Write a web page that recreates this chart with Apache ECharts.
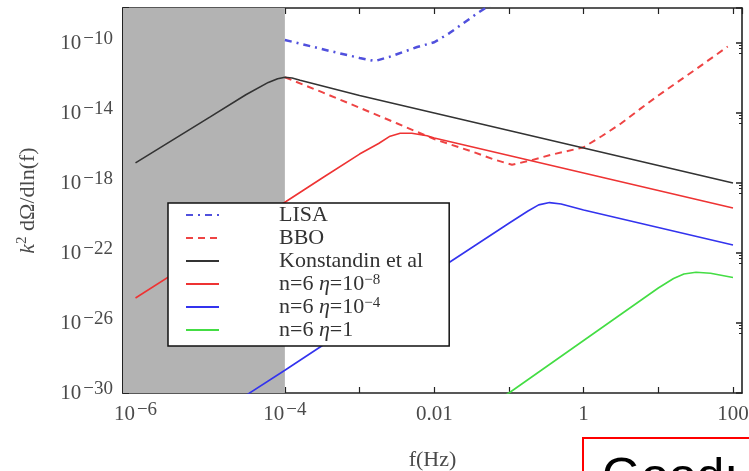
<!DOCTYPE html>
<html><head><meta charset="utf-8">
<script src="https://cdn.jsdelivr.net/npm/echarts@6/dist/echarts.min.js"></script>
<style>html,body{margin:0;padding:0;background:#fff}#c{width:749px;height:471px}</style>
</head><body><div id="c"></div>
<script>
// ---- data ----
const seriesNames = ['LISA', 'BBO', 'Konstandin et al', 'n=6 η=10^-8', 'n=6 η=10^-4', 'n=6 η=1'];

const lisaF = [1e-4, 4e-4, 1e-3, 1.6e-3, 2.5e-3, 5.9e-3, 1e-2, 1.6e-2, 3.8e-2, 8e-2];
const lisaH = [1.5e-10, 3.5e-11, 1.4e-11, 9.3e-12, 1.6e-11, 5.9e-11, 1.1e-10, 3.7e-10, 5.1e-9, 4e-8];

const bboF = [1e-4, 3.2e-4, 1e-3, 3.2e-3, 1e-2, 3.2e-2, 6.3e-2, 0.11, 0.2, 0.36, 1, 1.78, 3.16, 5.6, 10, 32, 85];
const bboH = [1.1e-12, 1.5e-13, 2e-14, 2.5e-15, 3.2e-16, 6.3e-17, 2.2e-17, 1.1e-17, 2e-17, 4e-17, 1.1e-16, 5e-16, 2.5e-15, 1.6e-14, 1e-13, 3.2e-12, 6.3e-11];

const konF = [1e-6, 1e-5, 3e-5, 6e-5, 8e-5, 1e-4, 1.25e-4, 1.6e-4, 1e-3, 1e-2, 0.1, 1, 10, 100];
const konH = [1.4e-17, 6e-15, 1.1e-13, 5.6e-13, 9e-13, 1.1e-12, 1e-12, 7.5e-13, 1e-13, 1e-14, 1e-15, 1e-16, 1e-17, 1e-18];

const eta8F = [1e-6, 1e-5, 1e-4, 3.2e-4, 1e-3, 1.8e-3, 2.5e-3, 3.5e-3, 5e-3, 8e-3, 1e-2, 0.1, 1, 10, 100];
const eta8H = [2.7e-25, 1.4e-22, 7.9e-20, 2e-18, 4.5e-17, 1.8e-16, 4.5e-16, 7e-16, 7e-16, 5e-16, 3.7e-16, 3.7e-17, 3.7e-18, 3.7e-19, 3.7e-20];

const eta4F = [2.5e-5, 1e-4, 1e-3, 1e-2, 0.1, 0.18, 0.25, 0.35, 0.5, 1, 10, 100];
const eta4H = [4.4e-31, 2e-29, 1.3e-26, 7.9e-24, 5e-21, 2.5e-20, 5.6e-20, 7.6e-20, 6.3e-20, 2.9e-20, 2.9e-21, 2.9e-22];

const eta1F = [0.08, 0.1, 1, 10, 16, 22, 32, 50, 100];
const eta1H = [5.6e-31, 1e-30, 1e-27, 1e-24, 3.5e-24, 6.3e-24, 7.9e-24, 7e-24, 4e-24];

const shadeEnd = 1e-4;
const xTickExp = [-6, -4, -2, 0, 2];
const xTickText = ['10^-6', '10^-4', '0.01', '1', '100'];
const yTickExp = [-30, -26, -22, -18, -14, -10];
const yTickText = ['10^-30', '10^-26', '10^-22', '10^-18', '10^-14', '10^-10'];

// ---- build ----
// ECharts' log scale rounds values near 1e-30 to zero, so the y values are
// handed to the library multiplied by 10^22 and the labels shifted back.
const yShiftExp = 22;
const yScale = Math.pow(10, yShiftExp);
const xMin = 6.8e-7, xMax = 132;
const yMinExp = -30, yMaxExp = -8;
function pairs(f, h) { return f.map((v, i) => [v, h[i] * yScale]); }
function rich(t) {
  const m = t.match(/^(.*)\^(-?\d+)$/);
  if (!m) return '{b|' + t + '}';
  return '{b|' + m[1] + '}{s|' + m[2].replace('-', '−') + '}';
}
function fmt(exps, texts, shift) {
  return function (v) {
    const e = Math.log10(v) - shift;
    const i = exps.findIndex(t => Math.abs(t - e) < 1e-6);
    return i < 0 ? '' : rich(texts[i]);
  };
}
const serif = 'Liberation Serif';
const labelRich = {
  b: { fontFamily: serif, fontSize: 21, lineHeight: 26, color: '#4a4a4a' },
  s: { fontFamily: serif, fontSize: 19, lineHeight: 15, color: '#4a4a4a', verticalAlign: 'top', padding: [0, 0, 0, 2] }
};
function legendFmt(name) {
  const m = name.match(/^n=6 η=(.*)$/);
  if (!m) return '{a|' + name + '}';
  const r = m[1].match(/^10\^(-?\d+)$/);
  if (r) return '{a|n=6 }{i|η}{t|=10}{s|' + r[1].replace('-', '−') + '}';
  return '{a|n=6 }{i|η}{t|=' + m[1] + '}';
}
const legRich = {
  a: { fontFamily: serif, fontSize: 22, lineHeight: 22, color: '#333', padding: [0, 0, 0, 55] },
  t: { fontFamily: serif, fontSize: 22, lineHeight: 22, color: '#333' },
  i: { fontFamily: serif, fontSize: 22, lineHeight: 22, color: '#333', fontStyle: 'italic' },
  s: { fontFamily: serif, fontSize: 15, lineHeight: 13, color: '#333', verticalAlign: 'top' }
};
const axisLine = { show: true, lineStyle: { color: '#222', width: 1.6 } };
const yMin = Math.pow(10, yMinExp + yShiftExp), yMax = Math.pow(10, yMaxExp + yShiftExp);

const chart = echarts.init(document.getElementById('c'));
chart.setOption({
  backgroundColor: '#fff',
  animation: false,
  grid: { left: 123, right: 7, top: 8, bottom: 78, containLabel: false, outerBoundsMode: 'none' },
  xAxis: [{
    type: 'log', min: xMin, max: xMax, position: 'bottom',
    axisLine: axisLine, splitLine: { show: false },
    axisTick: { inside: true, length: 6, lineStyle: { color: '#222', width: 1.2 } },
    axisLabel: { margin: 8, formatter: fmt(xTickExp, xTickText, 0), rich: labelRich, showMinLabel: false, showMaxLabel: false },
    name: 'f(Hz)', nameLocation: 'middle', nameGap: 56,
    nameTextStyle: { fontFamily: serif, fontSize: 22, color: '#4a4a4a' }
  }, {
    type: 'log', min: xMin, max: xMax, position: 'top',
    axisLine: axisLine, splitLine: { show: false },
    axisTick: { inside: true, length: 6, lineStyle: { color: '#222', width: 1.2 } },
    axisLabel: { show: false }
  }],
  yAxis: [{
    type: 'log', min: yMin, max: yMax, interval: 4, position: 'left',
    axisLine: { show: true, lineStyle: { color: '#222', width: 2 } }, splitLine: { show: false },
    axisTick: { inside: true, length: 6, lineStyle: { color: '#222', width: 2 } },
    minorTick: { show: true, splitNumber: 4, length: 3, lineStyle: { color: '#222' } },
    axisLabel: { margin: 10, formatter: fmt(yTickExp, yTickText, yShiftExp), rich: labelRich, showMaxLabel: false },
    name: '{i|k}{s|2}{n| dΩ/dln(f)}', nameLocation: 'middle', nameGap: 82, nameRotate: 90,
    nameTextStyle: { rich: {
      i: { fontFamily: serif, fontSize: 22, lineHeight: 26, fontStyle: 'italic', color: '#4a4a4a' },
      s: { fontFamily: serif, fontSize: 15, lineHeight: 14, color: '#4a4a4a', verticalAlign: 'top' },
      n: { fontFamily: serif, fontSize: 22, lineHeight: 26, color: '#4a4a4a' }
    } }
  }, {
    type: 'log', min: yMin, max: yMax, interval: 4, position: 'right',
    axisLine: axisLine, splitLine: { show: false },
    axisTick: { inside: true, length: 6, lineStyle: { color: '#222', width: 1.5 } },
    minorTick: { show: true, splitNumber: 4, length: 3, lineStyle: { color: '#222' } },
    axisLabel: { show: false }
  }],
  legend: {
    data: seriesNames, orient: 'vertical', left: 168, top: 203,
    itemWidth: 33, itemHeight: 14, itemGap: 1,
    padding: [1, 26, 5, 17],
    backgroundColor: '#fff', borderColor: '#111', borderWidth: 1.5,
    selectedMode: false,
    itemStyle: { opacity: 0 },
    formatter: legendFmt,
    textStyle: { rich: legRich }
  },
  series: [
    { type: 'line', name: '_shade', data: [[1e-5, 1]], symbol: 'none', z: 1,
      lineStyle: { opacity: 0 }, silent: true,
      markArea: { silent: true, itemStyle: { color: '#b3b3b3' },
        data: [[{ xAxis: xMin }, { xAxis: shadeEnd }]] } },
    { type: 'line', name: seriesNames[0], data: pairs(lisaF, lisaH), symbol: 'none', z: 3,
      lineStyle: { color: '#5050dd', width: 2.5, type: [7, 5, 2, 5] }, color: '#5050dd' },
    { type: 'line', name: seriesNames[1], data: pairs(bboF, bboH), symbol: 'none', z: 3,
      lineStyle: { color: '#ee4444', width: 2, type: [7, 5] }, color: '#ee4444' },
    { type: 'line', name: seriesNames[2], data: pairs(konF, konH), symbol: 'none', z: 3,
      lineStyle: { color: '#333', width: 1.6 }, color: '#333' },
    { type: 'line', name: seriesNames[3], data: pairs(eta8F, eta8H), symbol: 'none', z: 3,
      lineStyle: { color: '#ee3333', width: 1.6 }, color: '#ee3333' },
    { type: 'line', name: seriesNames[4], data: pairs(eta4F, eta4H), symbol: 'none', z: 3,
      lineStyle: { color: '#3333ee', width: 1.6 }, color: '#3333ee' },
    { type: 'line', name: seriesNames[5], data: pairs(eta1F, eta1H), symbol: 'none', z: 3,
      lineStyle: { color: '#44dd44', width: 1.6 }, color: '#44dd44' }
  ],
  graphic: [
    { type: 'rect', left: 582, top: 437, z: 100,
      shape: { width: 200, height: 60 },
      style: { fill: '#fff', stroke: '#ff0000', lineWidth: 2 } },
    { type: 'text', left: 602, top: 454, z: 101,
      style: { text: 'Good: A', fontFamily: 'Liberation Sans', fontSize: 50, fill: '#000' } }
  ]
});
</script></body></html>
